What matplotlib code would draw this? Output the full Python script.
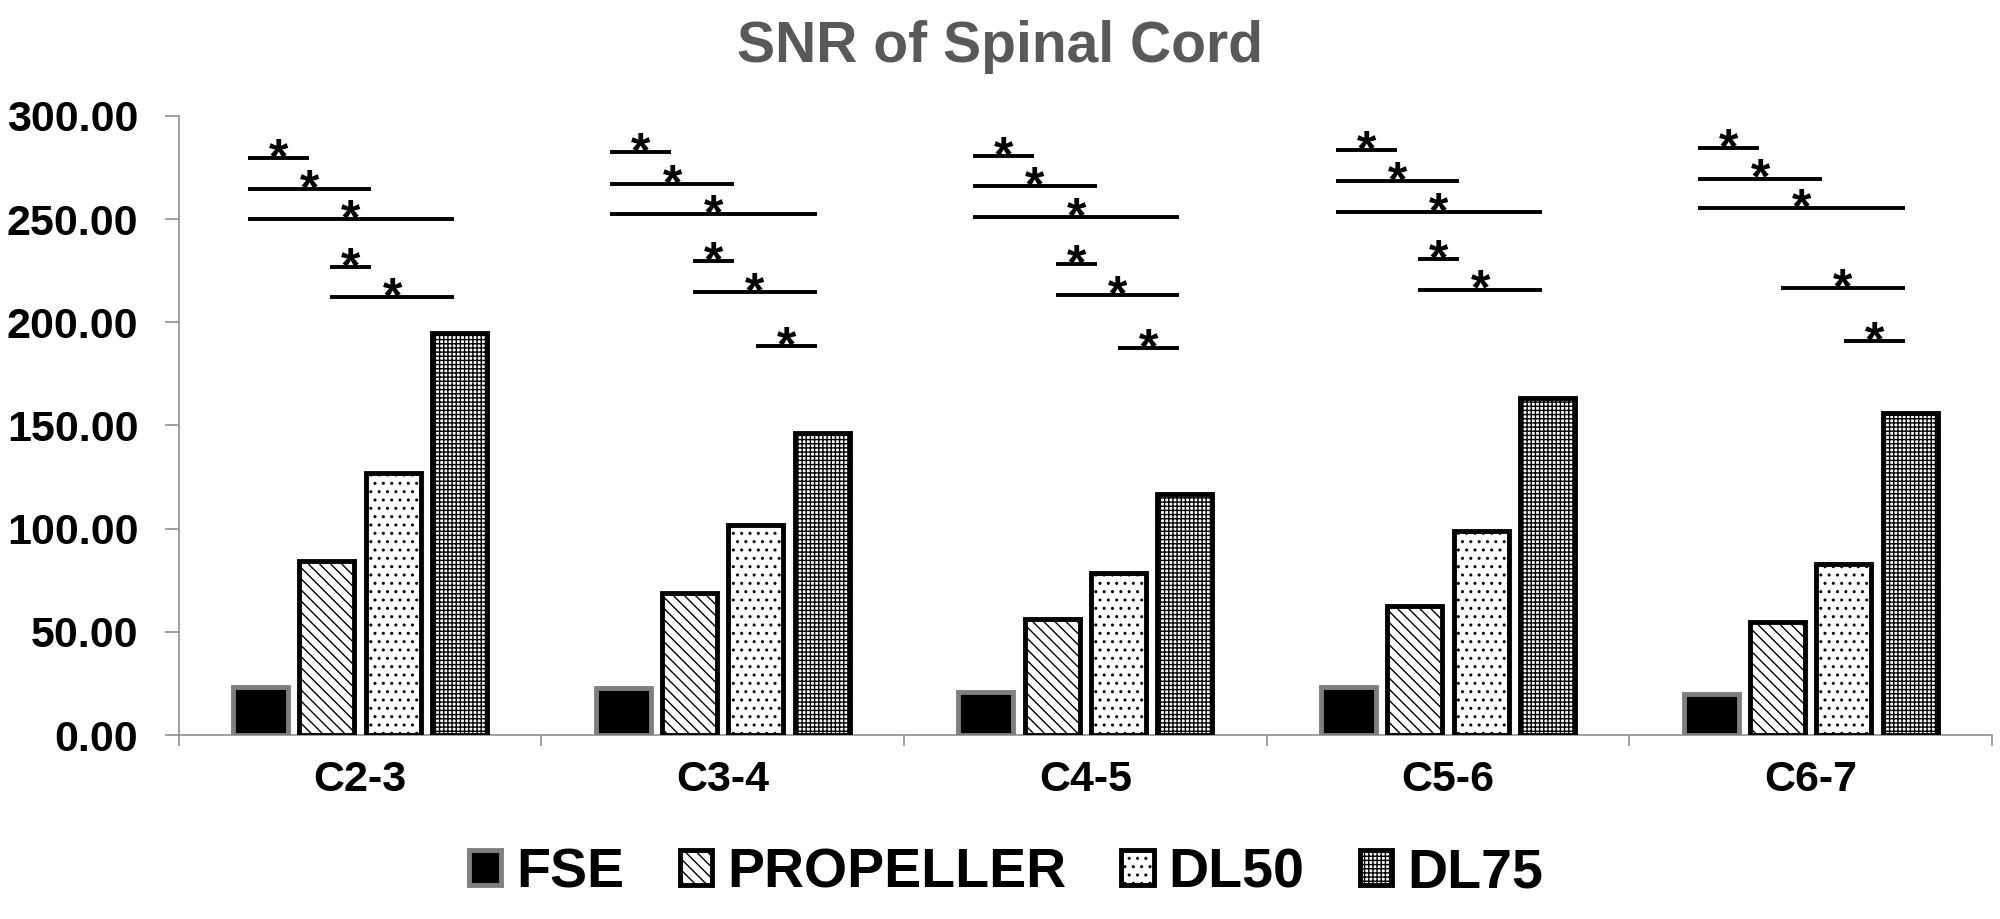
import numpy as np
import matplotlib
matplotlib.use("Agg")
import matplotlib.pyplot as plt

# values
categories = ["C2-3", "C3-4", "C4-5", "C5-6", "C6-7"]
series_names = ["FSE", "PROPELLER", "DL50", "DL75"]
fse = [23.5, 23.0, 21.0, 23.5, 20.0]
propeller = [84.5, 68.8, 56.3, 62.5, 55.0]
dl50 = [126.8, 102.0, 78.6, 99.0, 83.0]
dl75 = [195.0, 146.6, 117.0, 163.3, 156.0]

# significance bars: (bar i, bar j, height) for each vertebral level
sig_c23 = [(0, 1, 279.6), (0, 2, 264.7), (0, 3, 249.9), (1, 2, 227.0), (1, 3, 212.2)]
sig_c34 = [(0, 1, 282.7), (0, 2, 267.2), (0, 3, 252.4), (1, 2, 229.5), (1, 3, 214.6), (2, 3, 188.7)]
sig_c45 = [(0, 1, 280.8), (0, 2, 266.0), (0, 3, 251.1), (1, 2, 228.2), (1, 3, 213.4), (2, 3, 187.4)]
sig_c56 = [(0, 1, 283.3), (0, 2, 268.5), (0, 3, 253.6), (1, 2, 230.7), (1, 3, 215.9)]
sig_c67 = [(0, 1, 284.5), (0, 2, 269.7), (0, 3, 255.5), (1, 3, 216.5), (2, 3, 191.1)]
sig_all = [sig_c23, sig_c34, sig_c45, sig_c56, sig_c67]

plt.rcParams["hatch.linewidth"] = 1.0
arial = "Liberation Sans"

fig = plt.figure(figsize=(20, 9.19), dpi=100)
ax = fig.add_axes([0.0893, 0.2002, 0.9067, 0.6736])

x = np.arange(len(categories))
pitch = 0.183
width = 0.152
series = [fse, propeller, dl50, dl75]
faces = ["black", "white", "white", "white"]
edges = ["#7f7f7f", "black", "black", "black"]
hatches = [None, "\\\\\\", "..", "++++"]

for k, vals in enumerate(series):
    ax.bar(x + (k - 1.5) * pitch, vals, width, color=faces[k], edgecolor=edges[k],
           linewidth=3.5, hatch=hatches[k], label=series_names[k], zorder=3)

# hand-drawn looking offsets of the line ends relative to bar centres
start_adj = [-0.035, 0.01, 0.0, 0.0]
end_adj = [0.0, -0.05, -0.06, -0.015]
for g, sigs in enumerate(sig_all):
    for i, j, h in sigs:
        x0 = g + (i - 1.5) * pitch + start_adj[i]
        x1 = g + (j - 1.5) * pitch + end_adj[j]
        ax.plot([x0, x1], [h, h], color="black", lw=2.8, solid_capstyle="butt", zorder=4)
        ax.annotate("*", ((x0 + x1) / 2, h), xytext=(0, -11), textcoords="offset points",
                    ha="center", va="baseline", fontsize=36, fontweight="bold",
                    family=arial, zorder=5)

ax.set_xlim(-0.5, len(categories) - 0.5)
ax.set_ylim(0, 300)
ax.set_yticks(np.arange(0, 301, 50))
ax.set_yticklabels([f"{v:.2f}" for v in np.arange(0, 301, 50)],
                   fontsize=31, fontweight="bold", family=arial)
ax.set_xticks(x)
ax.set_xticklabels(categories, fontsize=31, fontweight="bold", family=arial)
ax.set_xticks(np.arange(-0.5, len(categories)), minor=True)
ax.tick_params(axis="x", which="major", length=0, pad=18)
ax.tick_params(axis="x", which="minor", length=8, width=1.1, color="#868686")
ax.tick_params(axis="y", length=10, width=1.1, color="#868686", pad=19)

for s in ["top", "right"]:
    ax.spines[s].set_visible(False)
for s in ["left", "bottom"]:
    ax.spines[s].set_color("#868686")
    ax.spines[s].set_linewidth(1.1)

fig.text(0.5, 0.949, "SNR of Spinal Cord", ha="center", va="center",
         fontsize=41, fontweight="bold", family=arial, color="#595959")

ax.legend(loc="center", bbox_to_anchor=(0.503, 0.05), bbox_transform=fig.transFigure,
          ncol=4, frameon=False, prop={"family": arial, "weight": "bold", "size": 40},
          handlelength=0.58, handleheight=0.6, handletextpad=0.27, columnspacing=1.0)

fig.savefig("out.png", dpi=100)
